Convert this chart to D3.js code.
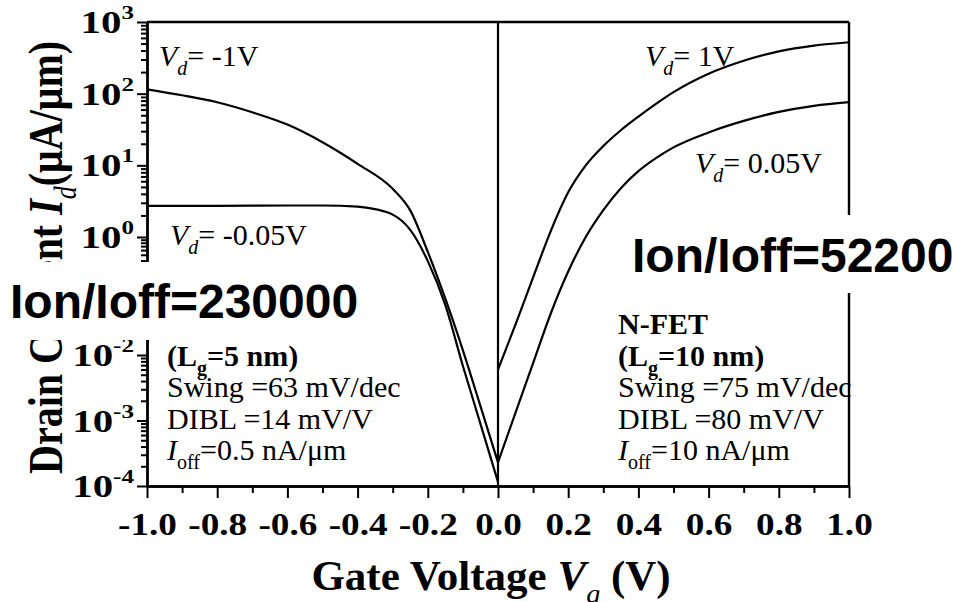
<!DOCTYPE html>
<html>
<head>
<meta charset="utf-8">
<script src="https://cdn.jsdelivr.net/npm/d3@7"></script>
<style>
  body { margin: 0; background: #fff; }
  text { fill: #000; }
</style>
</head>
<body>
<svg id="chart" width="953" height="602"></svg>
<script>
// drain current (uA/um) against gate voltage (V)
var vgP1 = [-1.0, -0.9, -0.8, -0.7, -0.6, -0.5, -0.4, -0.3, -0.25, -0.2, -0.15, -0.1, -0.05, 0.0];
var idP1 = [115, 95, 76, 55, 37, 21, 10.5, 4.7, 2.35, 0.56, 0.09, 0.012, 0.00166, 0.00023];
var vgP005 = [-1.0, -0.8, -0.6, -0.5, -0.4, -0.35, -0.3, -0.275, -0.25, -0.2, -0.15, -0.1, -0.05, 0.0];
var idP005 = [2.72, 2.72, 2.75, 2.75, 2.66, 2.45, 2.05, 1.7, 1.26, 0.39, 0.07, 0.0068, 0.00089, 0.000115];
var vgN = [0.0, 0.05, 0.1, 0.15, 0.2, 0.25, 0.3, 0.35, 0.4, 0.45, 0.5, 0.6, 0.7, 0.8, 0.9, 1.0];
var idN1 = [0.006, 0.033, 0.206, 1.2, 4.2, 10, 18.6, 30.9, 47.9, 72, 105, 190, 288, 389, 468, 522];
var idN005 = [0.00023, 0.00132, 0.0075, 0.05, 0.26, 1.0, 2.37, 4.8, 8.3, 12.6, 17.8, 28.8, 41.7, 55.6, 67.6, 76];

var xTicks = [-1.0, -0.8, -0.6, -0.4, -0.2, 0.0, 0.2, 0.4, 0.6, 0.8, 1.0];
var xMinor = [-0.9, -0.7, -0.5, -0.3, -0.1, 0.1, 0.3, 0.5, 0.7, 0.9];
var yExponents = [-4, -3, -2, -1, 0, 1, 2, 3];

var ratioLabels = ['Ion/Ioff=230000', 'Ion/Ioff=52200'];

var svg = d3.select('#chart');
var serif = '"Liberation Serif", "Times New Roman", Times, serif';
var sans = '"Liberation Sans", Arial, Helvetica, sans-serif';

var plot = { left: 147, right: 849, top: 22, bottom: 486 };

var x = d3.scaleLinear().domain([-1, 1]).range([plot.left, plot.right]);
// the pasted figure has a strip cut out behind the left label box,
// so the decades are not evenly spaced: piecewise log scale
var y = d3.scaleLog().domain([1e-4, 1e-2, 1, 1e3]).range([plot.bottom, 355, 237, plot.top]);

// minor y ticks 2..9 in each decade
var yMinor = [];
yExponents.slice(0, -1).forEach(function(e) {
  for (var m = 2; m <= 9; m++) { yMinor.push(m * Math.pow(10, e)); }
});
var yMajor = yExponents.map(function(e) { return Math.pow(10, e); });

function styleAxis(g) {
  g.selectAll('path, line').attr('stroke', '#000').attr('stroke-width', 2);
  g.select('.domain').attr('stroke-width', 2.4);
}

// x axis
svg.append('g')
  .attr('transform', 'translate(0,' + plot.bottom + ')')
  .call(d3.axisBottom(x).tickValues(xMinor).tickSize(7).tickSizeOuter(0).tickFormat(''))
  .call(styleAxis);
var xAxisG = svg.append('g')
  .attr('transform', 'translate(0,' + plot.bottom + ')')
  .call(d3.axisBottom(x).tickValues(xTicks).tickSize(12).tickSizeOuter(0)
    .tickFormat(function(d) { return d.toFixed(1); }))
  .call(styleAxis);
xAxisG.selectAll('text')
  .attr('dy', null).attr('y', 49)
  .attr('transform', 'scale(1.2,1)')
  .style('font-family', serif).style('font-weight', 'bold').style('font-size', '31px');

// y axis
svg.append('g')
  .attr('transform', 'translate(' + plot.left + ',0)')
  .call(d3.axisLeft(y).tickValues(yMinor).tickSize(6).tickSizeOuter(0).tickFormat(''))
  .call(styleAxis);
svg.append('g')
  .attr('transform', 'translate(' + plot.left + ',0)')
  .call(d3.axisLeft(y).tickValues(yMajor).tickSize(10).tickSizeOuter(0).tickFormat(''))
  .call(styleAxis);

var yLab = svg.append('g').selectAll('text')
  .data(yMajor)
  .enter().append('text')
  .attr('transform', function(d) { return 'translate(134,' + (y(d) + 11) + ') scale(1.32,1)'; })
  .attr('text-anchor', 'end')
  .style('font-family', serif).style('font-weight', 'bold').style('font-size', '31px');
yLab.append('tspan').text('10');
yLab.append('tspan')
  .attr('dy', -14)
  .style('font-size', '19px')
  .text(function(d) { return String(Math.round(Math.log10(d))); });

// frame: top, right and the line at Vg = 0
svg.append('line').attr('x1', plot.left).attr('x2', plot.right)
  .attr('y1', plot.top).attr('y2', plot.top)
  .attr('stroke', '#000').attr('stroke-width', 2.4);
svg.append('line').attr('x1', plot.right).attr('x2', plot.right)
  .attr('y1', plot.top).attr('y2', plot.bottom)
  .attr('stroke', '#000').attr('stroke-width', 2.4);
svg.append('line').attr('x1', x(0)).attr('x2', x(0))
  .attr('y1', plot.top).attr('y2', plot.bottom)
  .attr('stroke', '#000').attr('stroke-width', 2.2);

// curves
var line = d3.line()
  .x(function(d) { return x(d[0]); })
  .y(function(d) { return y(d[1]); })
  .curve(d3.curveMonotoneX);

var series = [
  d3.zip(vgP1, idP1),
  d3.zip(vgP005, idP005),
  d3.zip(vgN, idN1),
  d3.zip(vgN, idN005)
];
svg.append('g').selectAll('path')
  .data(series)
  .enter().append('path')
  .attr('d', line)
  .attr('fill', 'none')
  .attr('stroke', '#000')
  .attr('stroke-width', 2.2);

// text helper: parts are [text, style] where style is 'i', 'b', 'bi', 'sub', 'subi', 'subb'
function richText(px, py, size, parts, attrs) {
  var t = svg.append('text')
    .attr('x', px).attr('y', py)
    .style('font-family', serif)
    .style('font-size', size + 'px');
  if (attrs) { attrs(t); }
  var shift = 0;
  parts.forEach(function(p) {
    var s = p[1] || '';
    var sp = t.append('tspan').text(p[0]);
    var isSub = s.indexOf('sub') === 0;
    var want = isSub ? Math.round(size * 0.3) : 0;
    if (want !== shift) { sp.attr('dy', want - shift); shift = want; }
    if (isSub) { sp.style('font-size', Math.round(size * 0.66) + 'px'); }
    if (s === 'i' || s === 'bi' || s === 'subi') { sp.style('font-style', 'italic'); }
    if (s === 'b' || s === 'bi' || s === 'subb') { sp.style('font-weight', 'bold'); }
  });
  return t;
}

// curve labels
richText(159, 66, 30, [['V', 'i'], ['d', 'subi'], ['= -1V']]);
richText(170, 245, 30, [['V', 'i'], ['d', 'subi'], ['= -0.05V']]);
richText(645, 66, 30, [['V', 'i'], ['d', 'subi'], ['= 1V']]);
richText(695, 173, 30, [['V', 'i'], ['d', 'subi'], ['= 0.05V']]);

// device blocks
var leftBlock = [
  [['(L', 'b'], ['g', 'subb'], ['=5 nm)', 'b']],
  [['Swing =63 mV/dec']],
  [['DIBL =14 mV/V']],
  [['I', 'i'], ['off', 'sub'], ['=0.5 nA/\u03bcm']]
];
var rightBlock = [
  [['N-FET', 'b']],
  [['(L', 'b'], ['g', 'subb'], ['=10 nm)', 'b']],
  [['Swing =75 mV/dec']],
  [['DIBL =80 mV/V']],
  [['I', 'i'], ['off', 'sub'], ['=10 nA/\u03bcm']]
];
var leftRows = [366, 397, 429, 460];
var rightRows = [334, 366, 397, 429, 460];
leftBlock.forEach(function(r, i) { richText(167, leftRows[i], 30, r); });
rightBlock.forEach(function(r, i) { richText(618, rightRows[i], 30, r); });

// axis titles
richText(0, 0, 40, [['Drain Current ', 'b'], ['I', 'bi'], ['d', 'subi'], ['(\u03bcA/\u03bcm)', 'b']],
  function(t) { t.attr('transform', 'translate(62,474) scale(1.2,1) rotate(-90)'); });
richText(491, 590, 43, [['Gate Voltage ', 'b'], ['V', 'bi'], ['g', 'subi'], [' (V)', 'b']],
  function(t) { t.attr('text-anchor', 'middle'); });

// pasted-on Ion/Ioff boxes
var boxes = [
  { x: 0, y: 262, w: 372, h: 78, tx: 10, ty: 318 },
  { x: 625, y: 215, w: 328, h: 78, tx: 632, ty: 272 }
];
boxes.forEach(function(b, i) {
  svg.append('rect').attr('x', b.x).attr('y', b.y).attr('width', b.w).attr('height', b.h)
    .attr('fill', '#fff');
  svg.append('text').attr('x', b.tx).attr('y', b.ty)
    .style('font-family', sans).style('font-weight', 'bold').style('font-size', '48px')
    .text(ratioLabels[i]);
});
</script>
</body>
</html>
